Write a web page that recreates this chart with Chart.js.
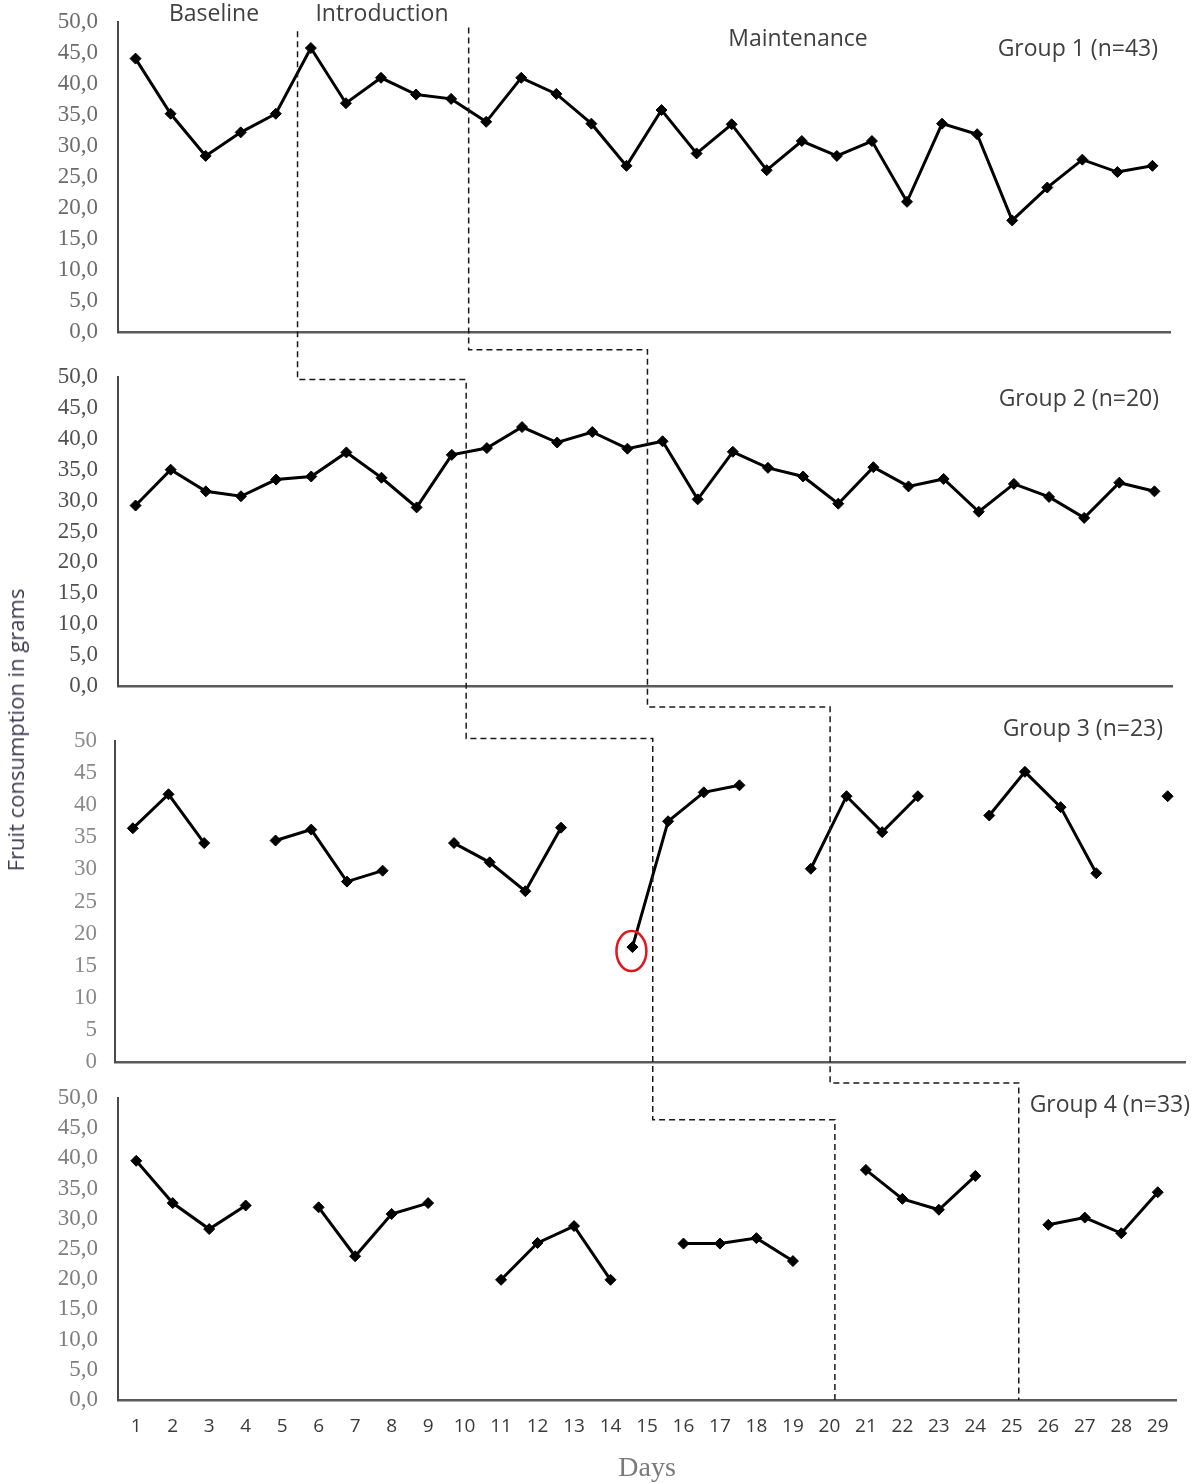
<!DOCTYPE html>
<html>
<head>
<meta charset="utf-8">
<title>Fruit consumption per group</title>
<script src="https://cdn.jsdelivr.net/npm/chart.js@4.4.1/dist/chart.umd.min.js"></script>
<style>
  body { margin: 0; background: #fff; }
  #wrap { position: relative; width: 1192px; height: 1483px; overflow: hidden; }
  #wrap canvas { position: absolute; left: 0; }
  .txt { position: absolute; white-space: nowrap; color: #404040; font-family: "Open Sans", sans-serif; line-height: 1; }
  .c { transform: translate(-50%, -50%); }
  .r { transform: translateY(-50%); }
</style>
</head>
<body>
<div id="wrap">
  <canvas id="g1" width="1192" height="350" style="top:0px"></canvas>
  <canvas id="g2" width="1192" height="355" style="top:350px"></canvas>
  <canvas id="g3" width="1192" height="375" style="top:705px"></canvas>
  <canvas id="g4" width="1192" height="403" style="top:1080px"></canvas>
  <canvas id="overlay" width="1192" height="1483" style="top:0px"></canvas>

  <div class="txt c" style="left:214px; top:12px; font-size:23px;">Baseline</div>
  <div class="txt c" style="left:382px; top:12px; font-size:23px;">Introduction</div>
  <div class="txt c" style="left:798px; top:37px; font-size:23px;">Maintenance</div>

  <div class="txt r" style="right:34px; top:47px; font-size:23px;">Group 1 (n=43)</div>
  <div class="txt r" style="right:33px; top:397px; font-size:23px;">Group 2 (n=20)</div>
  <div class="txt r" style="right:29px; top:727px; font-size:23px;">Group 3 (n=23)</div>
  <div class="txt r" style="right:2px; top:1103px; font-size:23px;">Group 4 (n=33)</div>

  <div class="txt" style="left:15px; top:730px; font-size:22px; color:#3d3a52; transform:translate(-50%,-50%) rotate(-90deg);">Fruit consumption in grams</div>
  <div class="txt c" style="left:647px; top:1467px; font-size:28px; color:#7a7a7a; font-family:'Liberation Serif', serif;">Days</div>
</div>

<script>
// Days on the x axis (groups 1-3 were measured on 30 days, group 4 on 29)
const DAYS_30 = ["1","2","3","4","5","6","7","8","9","10","11","12","13","14","15",
                 "16","17","18","19","20","21","22","23","24","25","26","27","28","29","30"];
const DAYS_29 = ["1","2","3","4","5","6","7","8","9","10","11","12","13","14","15",
                 "16","17","18","19","20","21","22","23","24","25","26","27","28","29"];

// Mean fruit consumption (grams) per day
const GROUP1 = [44.1, 35.2, 28.4, 32.2, 35.2, 45.8, 36.9, 41.0, 38.3, 37.6,
                33.9, 41.0, 38.4, 33.6, 26.8, 35.8, 28.8, 33.5, 26.1, 30.8,
                28.4, 30.8, 21.0, 33.6, 31.9, 18.0, 23.3, 27.8, 25.8, 26.8];
const GROUP2 = [29.2, 35.0, 31.5, 30.7, 33.4, 33.9, 37.8, 33.7, 28.9, 37.4,
                38.5, 41.9, 39.4, 41.1, 38.4, 39.6, 30.2, 37.9, 35.3, 33.9,
                29.5, 35.4, 32.3, 33.5, 28.2, 32.7, 30.6, 27.2, 32.9, 31.5];
const GROUP3 = [36.4, 41.7, 34.1, null, 34.5, 36.2, 28.1, 29.8, null, 34.1,
                31.1, 26.6, 36.5, null, 17.9, 37.5, 42.0, 43.1, null, 30.1,
                41.4, 35.8, 41.4, null, 38.4, 45.2, 39.7, 29.4, null, 41.4];
const GROUP4 = [39.6, 32.6, 28.3, 32.2, null, 31.9, 23.8, 30.8, 32.6, null,
                19.9, 26.0, 28.8, 19.9, null, 25.9, 25.9, 26.8, 23.0, null,
                38.1, 33.3, 31.5, 37.1, null, 29.0, 30.2, 27.6, 34.4];

// y axis ticks
const Y_MIN = 0;
const Y_MAX = 50;
const Y_STEP = 5;

// Phase changes (day position in each panel) and where the staircase turns
const INTRO_DAYS = [5.62, 10.41, 15.57, 20.15];
const INTRO_START = 48.5;
const INTRO_TURNS = [49.6, 50.4, 46.4];
const MAINT_DAYS = [10.5, 15.57, 20.54, 25.19];
const MAINT_START = 49.1;
const MAINT_TURNS = [54.4, 55.3, 52.5];

// Outlier circled in red (group 3)
const CIRCLED_DAY = 15;

const commaFmt = v => v.toFixed(1).replace(".", ",");

const circleMark = {
    id: "circleMark",
    afterDatasetsDraw(chart) {
        const pt = chart.getDatasetMeta(0).data[CIRCLED_DAY - 1];
        const ctx = chart.ctx;
        ctx.save();
        ctx.strokeStyle = "#e3141c";
        ctx.lineWidth = 2.5;
        ctx.beginPath();
        ctx.ellipse(pt.x - 1, pt.y + 4, 15, 20, 0, 0, Math.PI * 2);
        ctx.stroke();
        ctx.restore();
    }
};

function makePanel(id, labels, values, opt) {
    const canvas = document.getElementById(id);
    return new Chart(canvas, {
        type: "line",
        data: {
            labels: labels,
            datasets: [{
                data: values,
                borderColor: "#000",
                backgroundColor: "#000",
                borderWidth: 3,
                pointStyle: "rectRot",
                pointRadius: 5.5,
                pointBorderWidth: 1,
                spanGaps: false,
                tension: 0
            }]
        },
        options: {
            responsive: false,
            animation: false,
            events: [],
            layout: { padding: opt.pad },
            plugins: {
                legend: { display: false },
                tooltip: { enabled: false }
            },
            scales: {
                x: {
                    offset: true,
                    grid: { display: false, drawTicks: false },
                    border: { display: true, color: "#5a5a5a", width: 2.5 },
                    ticks: opt.xTicks || { display: false },
                    afterFit: s => {
                        s.height = opt.xHeight || 0;
                        s.paddingLeft = 0;
                        s.paddingRight = 0;
                    }
                },
                y: {
                    min: Y_MIN,
                    max: Y_MAX,
                    grid: { display: false, drawTicks: false },
                    border: { display: true, color: "#4a4a4a", width: 2 },
                    ticks: {
                        stepSize: Y_STEP,
                        autoSkip: false,
                        padding: opt.yPad,
                        color: opt.yColor,
                        font: { family: "Liberation Serif", size: 23 },
                        callback: opt.yFmt
                    },
                    afterFit: s => {
                        s.width = opt.left;
                        s.paddingTop = 0;
                        s.paddingBottom = 0;
                    }
                }
            }
        },
        plugins: opt.plugins || []
    });
}

// chart areas: g1 22-332, g2 377-686, g3 741-1062, g4 1098-1400
const charts = [
    makePanel("g1", DAYS_30, GROUP1, {
        pad: { top: 22, bottom: 18, right: 22, left: 0 }, left: 118, yPad: 20,
        yColor: "#6b6b6b", yFmt: commaFmt
    }),
    makePanel("g2", DAYS_30, GROUP2, {
        pad: { top: 27, bottom: 19, right: 20, left: 0 }, left: 118, yPad: 20,
        yColor: "#505050", yFmt: commaFmt
    }),
    makePanel("g3", DAYS_30, GROUP3, {
        pad: { top: 36, bottom: 18, right: 2, left: 0 }, left: 115, yPad: 18,
        yColor: "#8a8a8a", yFmt: v => String(v), plugins: [circleMark]
    }),
    makePanel("g4", DAYS_29, GROUP4, {
        pad: { top: 18, bottom: 0, right: 16, left: 0 }, left: 118, yPad: 20,
        yColor: "#7d7d7d", yFmt: commaFmt, xHeight: 83,
        xTicks: {
            display: true, autoSkip: false, maxRotation: 0, padding: 15,
            color: "#3a3a3a", font: { family: "Open Sans", size: 19 }
        }
    })
];

// Dashed phase-change staircases across the four panels
const ov = document.getElementById("overlay").getContext("2d");
const px = (i, day) => charts[i].scales.x.getPixelForValue(day - 1);
const py = (i, v) => charts[i].canvas.offsetTop + charts[i].scales.y.getPixelForValue(v);

function drawStair(days, startVal, turns) {
    let x = px(0, days[0]);
    let y = py(0, startVal);
    ov.beginPath();
    ov.moveTo(x, y);
    for (let i = 1; i < charts.length; i++) {
        y = py(i, turns[i - 1]);
        ov.lineTo(x, y);
        x = px(i, days[i]);
        ov.lineTo(x, y);
    }
    ov.lineTo(x, py(charts.length - 1, 0));
    ov.stroke();
}

ov.strokeStyle = "#1a1a1a";
ov.lineWidth = 1.5;
ov.setLineDash([6, 4]);
drawStair(INTRO_DAYS, INTRO_START, INTRO_TURNS);
drawStair(MAINT_DAYS, MAINT_START, MAINT_TURNS);
</script>
</body>
</html>
